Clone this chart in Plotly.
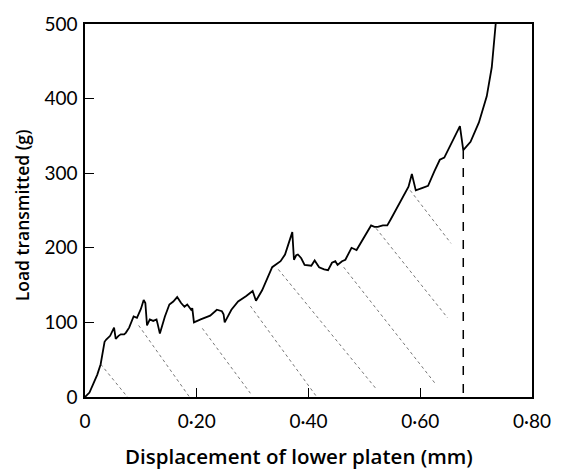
import plotly.graph_objects as go

# Load-displacement trace (mm, g)
disp = [0, 0.008, 0.015, 0.022, 0.028, 0.032, 0.035, 0.038, 0.045, 0.052, 0.055, 0.060, 0.064,
        0.070, 0.073, 0.079, 0.087, 0.093, 0.100, 0.105, 0.108, 0.111, 0.116, 0.122, 0.128,
        0.130, 0.134, 0.143, 0.151, 0.158, 0.165, 0.172, 0.178, 0.183, 0.190, 0.192, 0.195,
        0.207, 0.215, 0.224, 0.236, 0.245, 0.248, 0.250, 0.262, 0.274, 0.288, 0.300, 0.306,
        0.317, 0.335, 0.341, 0.350, 0.358, 0.371, 0.374, 0.378, 0.381, 0.387, 0.393, 0.399,
        0.405, 0.411, 0.419, 0.428, 0.435, 0.442, 0.448, 0.452, 0.460, 0.466, 0.477, 0.486,
        0.500, 0.512, 0.518, 0.524, 0.533, 0.541, 0.547, 0.560, 0.579, 0.585, 0.592, 0.603,
        0.614, 0.625, 0.635, 0.643, 0.652, 0.661, 0.671, 0.677, 0.690, 0.705, 0.719, 0.728,
        0.734, 0.735]
load = [0, 6, 18, 30, 44, 60, 74, 77, 82, 93, 78, 82, 84,
        84, 86, 93, 108, 106, 118, 130, 126, 96, 104, 102, 104,
        98, 85, 108, 124, 128, 134, 126, 121, 124, 117, 119, 100,
        104, 106, 109, 117, 115, 111, 100, 117, 128, 135, 142, 129,
        143, 174, 177, 182, 191, 221, 184, 190, 191, 186, 177, 176,
        176, 183, 174, 171, 170, 180, 182, 177, 182, 184, 200, 197,
        214, 230, 228, 228, 230, 230, 238, 256, 282, 299, 277, 280,
        283, 302, 318, 321, 335, 347, 363, 331, 342, 368, 403, 442,
        489, 500]

# Hatch (unloading) lines: start and end points
hatch_x0 = [0.028, 0.096, 0.210, 0.296, 0.346, 0.463, 0.521, 0.582]
hatch_y0 = [44, 96, 92, 122, 171, 174, 226, 277]
hatch_x1 = [0.076, 0.187, 0.296, 0.413, 0.521, 0.629, 0.649, 0.655]
hatch_y1 = [0, 0, 5, 2, 11, 16, 106, 206]

# Dashed drop line
drop_x = [0.677, 0.677]
drop_y = [331, 0]

x_ticks = [0, 0.2, 0.4, 0.6, 0.8]
x_labels = ["0", "0·20", "0·40", "0·60", "0·80"]
y_ticks = [0, 100, 200, 300, 400, 500]
y_labels = ["0", "100", "200", "300", "400", "500"]

fig = go.Figure()

for a, b, c, d in zip(hatch_x0, hatch_y0, hatch_x1, hatch_y1):
    fig.add_trace(go.Scatter(x=[a, c], y=[b, d], mode="lines",
                             line=dict(color="#777777", width=1, dash="dot"),
                             hoverinfo="skip", showlegend=False))

fig.add_trace(go.Scatter(x=drop_x, y=drop_y, mode="lines",
                         line=dict(color="black", width=1.5, dash="dash"),
                         showlegend=False))

fig.add_trace(go.Scatter(x=disp, y=load, mode="lines",
                         line=dict(color="black", width=1.8),
                         showlegend=False))

font = "Lato, 'Open Sans', sans-serif"
title_font = "'Open Sans', Lato, sans-serif"
fig.update_layout(
    width=563, height=469,
    margin=dict(l=85, r=20, t=12, b=72),
    paper_bgcolor="white", plot_bgcolor="white",
    font=dict(family=font, color="black"),
    xaxis=dict(range=[0, 0.8], tickvals=x_ticks, ticktext=x_labels,
               ticks="inside", ticklen=9, tickwidth=1.3, tickcolor="black",
               showline=True, linecolor="black", linewidth=1.5, mirror=True,
               showgrid=False, zeroline=False, tickfont=dict(size=19),
               ticklabelstandoff=6),
    yaxis=dict(range=[0, 500], tickvals=y_ticks, ticktext=y_labels,
               ticks="inside", ticklen=9, tickwidth=1.3, tickcolor="black",
               showline=True, linecolor="black", linewidth=1.5, mirror=True,
               showgrid=False, zeroline=False, tickfont=dict(size=19),
               ticklabelstandoff=2),
    annotations=[
        dict(text="Displacement of lower platen (mm)", xref="paper", yref="paper",
             x=0.478, y=-0.157, showarrow=False,
             font=dict(size=20.5, family=title_font, weight=600),
             xanchor="center", yanchor="middle"),
        dict(text="Load transmitted (g)", xref="paper", yref="paper",
             x=-0.142, y=0.486, showarrow=False, textangle=-90,
             font=dict(size=17.5, family=title_font, weight=600),
             xanchor="center", yanchor="middle"),
    ],
)

fig.write_html("out.html")
